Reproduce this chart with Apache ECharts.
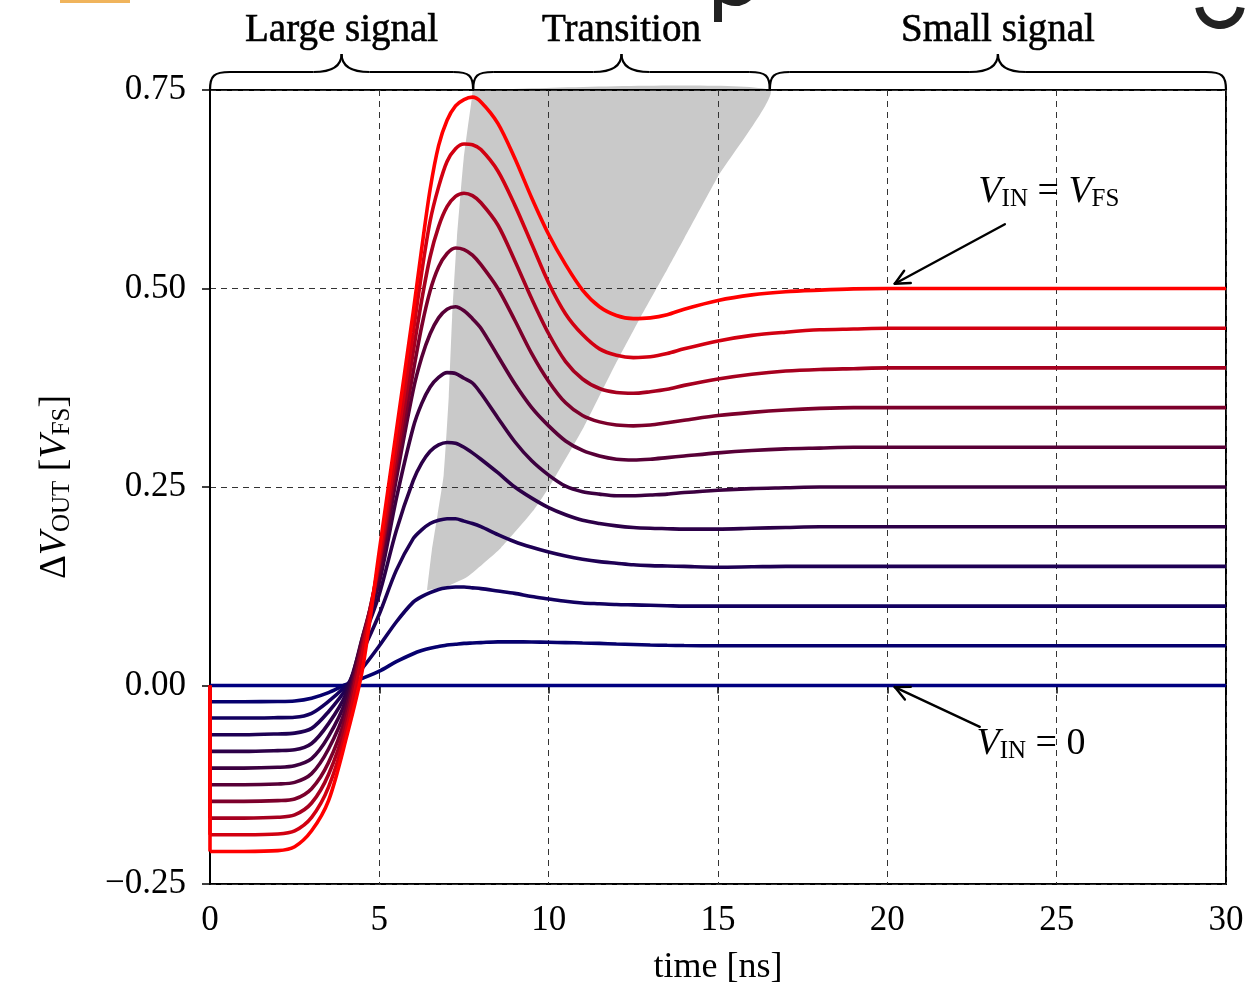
<!DOCTYPE html>
<html lang="en">
<head>
<meta charset="UTF-8">
<title>Step response</title>
<script src="https://cdn.jsdelivr.net/npm/echarts@6/dist/echarts.min.js"></script>
<style>
  html, body { margin: 0; padding: 0; background: #fff; }
  #chart { width: 1250px; height: 989px; }
</style>
</head>
<body>
<div id="chart"></div>
<script>
// time grid in ns, shared by every curve
var times = [0, 1, 2, 2.5, 3, 3.5, 4, 4.5, 5, 5.5, 6,
    6.25, 6.5, 6.75, 7, 7.25, 7.5, 7.75, 8,
    8.5, 9, 9.5, 10, 10.5, 11, 11.5, 12, 12.5, 13, 13.5, 14,
    15, 16, 17, 18, 19, 20, 22, 25, 30];

// output curves, named by their final value (in V_FS)
var out00 = [0, 0, 0, 0, 0, 0, 0, 0, 0, 0, 0,
    0, 0, 0, 0, 0, 0, 0, 0,
    0, 0, 0, 0, 0, 0, 0, 0, 0, 0, 0, 0,
    0, 0, 0, 0, 0, 0, 0, 0, 0];
var out05 = [-0.0204, -0.0204, -0.0202, -0.0195, -0.016, -0.009, 0.001, 0.009, 0.018, 0.03, 0.04,
    0.044, 0.047, 0.049, 0.051, 0.052, 0.053, 0.0535, 0.054,
    0.055, 0.055, 0.0548, 0.0544, 0.054, 0.0535, 0.053, 0.0522, 0.0516, 0.051, 0.0506, 0.0503,
    0.05, 0.05, 0.05, 0.05, 0.05, 0.05, 0.05, 0.05, 0.05];
var out10 = [-0.041, -0.041, -0.0405, -0.04, -0.035, -0.02, -0.001, 0.022, 0.05, 0.08, 0.105,
    0.112, 0.117, 0.121, 0.123, 0.124, 0.124, 0.123, 0.122,
    0.119, 0.116, 0.112, 0.109, 0.106, 0.104, 0.103, 0.102, 0.1015, 0.101, 0.1005, 0.1,
    0.1, 0.1, 0.1, 0.1, 0.1, 0.1, 0.1, 0.1, 0.1];
var out15 = [-0.062, -0.062, -0.061, -0.06, -0.054, -0.033, -0.005, 0.042, 0.09, 0.145, 0.185,
    0.196, 0.204, 0.208, 0.21, 0.21, 0.207, 0.204, 0.2,
    0.19, 0.181, 0.174, 0.168, 0.163, 0.159, 0.156, 0.154, 0.152, 0.151, 0.1505, 0.15,
    0.149, 0.1495, 0.15, 0.15, 0.15, 0.15, 0.15, 0.15, 0.15];
var out20 = [-0.083, -0.083, -0.082, -0.081, -0.073, -0.048, -0.012, 0.055, 0.115, 0.195, 0.258,
    0.28, 0.295, 0.303, 0.306, 0.305, 0.3, 0.293, 0.285,
    0.268, 0.25, 0.236, 0.224, 0.215, 0.208, 0.204, 0.201, 0.199, 0.198, 0.1975, 0.197,
    0.197, 0.198, 0.199, 0.2, 0.2, 0.2, 0.2, 0.2, 0.2];
var out25 = [-0.104, -0.104, -0.103, -0.101, -0.092, -0.064, -0.02, 0.06, 0.13, 0.235, 0.325,
    0.355, 0.376, 0.388, 0.394, 0.393, 0.387, 0.381, 0.368,
    0.337, 0.307, 0.283, 0.265, 0.251, 0.244, 0.241, 0.239, 0.239, 0.24, 0.241, 0.243,
    0.246, 0.248, 0.249, 0.25, 0.25, 0.25, 0.25, 0.25, 0.25];
var out30 = [-0.125, -0.125, -0.124, -0.122, -0.111, -0.08, -0.03, 0.06, 0.14, 0.26, 0.372,
    0.413, 0.443, 0.463, 0.474, 0.477, 0.472, 0.462, 0.45,
    0.415, 0.38, 0.35, 0.327, 0.308, 0.296, 0.289, 0.285, 0.284, 0.285, 0.287, 0.289,
    0.293, 0.296, 0.298, 0.299, 0.3, 0.3, 0.3, 0.3, 0.3];
var out35 = [-0.146, -0.146, -0.145, -0.143, -0.13, -0.097, -0.04, 0.055, 0.15, 0.275, 0.395,
    0.452, 0.497, 0.527, 0.544, 0.551, 0.549, 0.542, 0.53,
    0.5, 0.46, 0.418, 0.383, 0.356, 0.34, 0.332, 0.328, 0.327, 0.328, 0.331, 0.334,
    0.34, 0.344, 0.347, 0.349, 0.35, 0.35, 0.35, 0.35, 0.35];
var out40 = [-0.167, -0.167, -0.166, -0.163, -0.148, -0.112, -0.05, 0.05, 0.155, 0.285, 0.42,
    0.485, 0.54, 0.578, 0.603, 0.616, 0.62, 0.617, 0.608,
    0.58, 0.535, 0.487, 0.443, 0.408, 0.386, 0.374, 0.369, 0.368, 0.37, 0.373, 0.378,
    0.386, 0.392, 0.396, 0.398, 0.399, 0.4, 0.4, 0.4, 0.4];
var out45 = [-0.188, -0.188, -0.187, -0.183, -0.166, -0.128, -0.06, 0.04, 0.16, 0.3, 0.445,
    0.52, 0.585, 0.628, 0.66, 0.676, 0.682, 0.681, 0.675,
    0.648, 0.605, 0.556, 0.507, 0.468, 0.442, 0.424, 0.416, 0.413, 0.414, 0.418, 0.424,
    0.434, 0.441, 0.445, 0.448, 0.449, 0.45, 0.45, 0.45, 0.45];
var out50 = [-0.209, -0.209, -0.208, -0.203, -0.183, -0.145, -0.07, 0.02, 0.17, 0.32, 0.47,
    0.55, 0.625, 0.68, 0.712, 0.73, 0.738, 0.741, 0.735,
    0.708, 0.664, 0.614, 0.568, 0.53, 0.498, 0.477, 0.466, 0.462, 0.463, 0.467, 0.474,
    0.485, 0.492, 0.496, 0.498, 0.4995, 0.5, 0.5, 0.5, 0.5];

var curves = [out00, out05, out10, out15, out20, out25, out30, out35, out40, out45, out50];
var curveColors = ['#000080', '#06006e', '#120060', '#1e0054', '#2c0048', '#3c0040', '#580037', '#7c002b', '#a6001f', '#d20011', '#ff0000'];

// grey "transition" region (outline, time / value pairs)
var shadeT = [6.41, 6.55, 6.72, 6.9, 7.05, 7.15, 7.29, 7.49, 7.74, 7.77, 16.53, 15.0, 14.0, 13.5, 12.7, 12.0, 11.03, 10.0, 9.56, 8.58, 7.6, 7.0, 6.41];
var shadeV = [0.12, 0.17, 0.215, 0.265, 0.364, 0.464, 0.563, 0.663, 0.742, 0.75, 0.75, 0.641, 0.563, 0.524, 0.463, 0.407, 0.325, 0.249, 0.221, 0.173, 0.137, 0.125, 0.12];

// braces above the plot
var braceStart = [0, 7.77, 16.53];
var braceEnd = [7.77, 16.53, 30];
var braceLabels = ['Large signal', 'Transition', 'Small signal'];

// annotations: arrow tail (t, v) -> head (t, v), and text centre
var arrowTail = [[23.47, 0.581], [22.73, -0.052]];
var arrowHead = [[20.22, 0.506], [20.22, -0.002]];
var noteT = [24.77, 24.24];
var noteV = [0.621, -0.074];
var noteText = ['{v|V}{s|IN}{t| = }{v|V}{s|FS}', '{v|V}{s|IN}{t| = 0}'];

var xTicks = { min: 0, max: 30, interval: 5 };
var yTicks = { min: -0.25, max: 0.75, interval: 0.25 };

var serif = 'Liberation Serif';
var richText = {
    v: { fontFamily: serif, fontStyle: 'italic', fontSize: 38, lineHeight: 40, verticalAlign: 'middle', color: '#000' },
    s: { fontFamily: serif, fontSize: 25, lineHeight: 20, verticalAlign: 'bottom', color: '#000' },
    t: { fontFamily: serif, fontSize: 38, lineHeight: 40, verticalAlign: 'middle', color: '#000' },
    d: { fontFamily: serif, fontSize: 37, lineHeight: 40, verticalAlign: 'middle', color: '#000' }
};

var chart = echarts.init(document.getElementById('chart'));

var series = [];

// shaded area, below the dashed grid
series.push({
    type: 'custom',
    silent: true,
    z: -1,
    clip: false,
    data: [[shadeT[0], shadeV[0]]],
    renderItem: function (params, api) {
        var pts = shadeT.map(function (t, k) { return api.coord([t, shadeV[k]]); });
        return { type: 'polygon', shape: { points: pts, smooth: 0.15 }, style: { fill: '#c9c9c9' } };
    }
});

curves.forEach(function (vals, i) {
    series.push({
        type: 'line',
        data: times.map(function (t, j) { return [t, vals[j]]; }),
        smooth: 0.3,
        showSymbol: false,
        silent: true,
        lineStyle: { color: curveColors[i], width: 3.6 }
    });
    // the jump at t = 0
    series.push({
        type: 'line',
        data: [[0, 0], [0, vals[0]]],
        showSymbol: false,
        silent: true,
        lineStyle: { color: curveColors[i], width: 3.6 }
    });
});

// braces and their labels
series.push({
    type: 'custom',
    silent: true,
    clip: false,
    z: 10,
    data: braceStart.map(function (s, i) { return [s, braceEnd[i], i]; }),
    renderItem: function (params, api) {
        var a = api.coord([api.value(0), yTicks.max]);
        var b = api.coord([api.value(1), yTicks.max]);
        var y = a[1], x0 = a[0], x1 = b[0], m = (x0 + x1) / 2;
        var h1 = 18, h2 = 36, r = 20, r2 = 28;
        var st = { stroke: '#000', lineWidth: 2.2, fill: null };
        var yf = y - h1, yt = y - h2;
        return {
            type: 'group',
            children: [
                { type: 'bezierCurve', shape: { x1: x0, y1: y, cpx1: x0, cpy1: y - h1 * 0.8, cpx2: x0 + r * 0.2, cpy2: yf, x2: x0 + r, y2: yf }, style: st },
                { type: 'line', shape: { x1: x0 + r, y1: yf, x2: m - r2, y2: yf }, style: st },
                { type: 'bezierCurve', shape: { x1: m - r2, y1: yf, cpx1: m - r2 * 0.3, cpy1: yf, cpx2: m, cpy2: yf - (h2 - h1) * 0.35, x2: m, y2: yt }, style: st },
                { type: 'bezierCurve', shape: { x1: m, y1: yt, cpx1: m, cpy1: yf - (h2 - h1) * 0.35, cpx2: m + r2 * 0.3, cpy2: yf, x2: m + r2, y2: yf }, style: st },
                { type: 'line', shape: { x1: m + r2, y1: yf, x2: x1 - r, y2: yf }, style: st },
                { type: 'bezierCurve', shape: { x1: x1 - r, y1: yf, cpx1: x1 - r * 0.2, cpy1: yf, cpx2: x1, cpy2: y - h1 * 0.8, x2: x1, y2: y }, style: st },
                { type: 'text', x: m, y: y - 59, style: { text: braceLabels[api.value(2)], fontFamily: serif, fontSize: 39, fill: '#000', align: 'center', verticalAlign: 'middle', stroke: '#000', lineWidth: 0.6 } }
            ]
        };
    }
});

// arrows
series.push({
    type: 'custom',
    silent: true,
    z: 10,
    data: arrowTail.map(function (p, i) { return [p[0], p[1], arrowHead[i][0], arrowHead[i][1]]; }),
    renderItem: function (params, api) {
        var p = api.coord([api.value(0), api.value(1)]);
        var q = api.coord([api.value(2), api.value(3)]);
        var ang = Math.atan2(q[1] - p[1], q[0] - p[0]);
        var L = 16, w = 0.45;
        var st = { stroke: '#000', lineWidth: 2.4, lineCap: 'round' };
        return {
            type: 'group',
            children: [
                { type: 'line', shape: { x1: p[0], y1: p[1], x2: q[0], y2: q[1] }, style: st },
                { type: 'line', shape: { x1: q[0], y1: q[1], x2: q[0] - L * Math.cos(ang - w), y2: q[1] - L * Math.sin(ang - w) }, style: st },
                { type: 'line', shape: { x1: q[0], y1: q[1], x2: q[0] - L * Math.cos(ang + w), y2: q[1] - L * Math.sin(ang + w) }, style: st }
            ]
        };
    }
});

// annotation texts
series.push({
    type: 'custom',
    silent: true,
    z: 10,
    data: noteT.map(function (t, i) { return [t, noteV[i], i]; }),
    renderItem: function (params, api) {
        var c = api.coord([api.value(0), api.value(1)]);
        return {
            type: 'text', x: c[0], y: c[1],
            style: { text: noteText[api.value(2)], rich: richText, align: 'center', verticalAlign: 'middle', fill: '#000' }
        };
    }
});

var dashed = { show: true, lineStyle: { color: '#333', width: 1, type: [6, 5] } };

chart.setOption({
    animation: false,
    backgroundColor: '#fff',
    grid: { left: 210, right: 24, top: 90, bottom: 105, outerBoundsMode: 'none', show: true, borderColor: '#000', borderWidth: 2, backgroundColor: 'transparent' },
    xAxis: {
        type: 'value', min: xTicks.min, max: xTicks.max, interval: xTicks.interval,
        name: 'time [ns]', nameLocation: 'middle', nameGap: 66,
        nameTextStyle: { fontFamily: serif, fontSize: 36, color: '#000' },
        axisLine: { show: true, lineStyle: { color: '#000', width: 2 } },
        axisTick: { show: true, length: 8, lineStyle: { color: '#000', width: 1.5 } },
        axisLabel: { fontFamily: serif, fontSize: 35, color: '#000', margin: 19 },
        splitLine: dashed
    },
    yAxis: {
        type: 'value', min: yTicks.min, max: yTicks.max, interval: yTicks.interval,
        name: '{d|Δ}{v|V}{s|OUT}{t| [}{v|V}{s|FS}{t|]}', nameLocation: 'middle', nameGap: 135, nameRotate: 90,
        nameTextStyle: { rich: richText },
        axisLine: { show: true, lineStyle: { color: '#000', width: 2 } },
        axisTick: { show: true, length: 8, lineStyle: { color: '#000', width: 1.5 } },
        axisLabel: {
            fontFamily: serif, fontSize: 35, color: '#000', margin: 24, padding: [6, 0, 0, 0],
            formatter: function (v) { return (v < 0 ? '\u2212' : '') + Math.abs(v).toFixed(2); }
        },
        splitLine: dashed
    },
    // bits of a slide title cut off at the top edge
    graphic: [
        { type: 'rect', shape: { x: 60, y: 0, width: 70, height: 3 }, style: { fill: '#f0b45c' } },
        { type: 'rect', shape: { x: 714, y: 0, width: 8, height: 22 }, style: { fill: '#222' } },
        { type: 'arc', shape: { cx: 735, cy: -18, r: 20, startAngle: 0.1 * Math.PI, endAngle: 0.9 * Math.PI }, style: { stroke: '#222', lineWidth: 8, fill: null } },
        { type: 'arc', shape: { cx: 1220, cy: 4, r: 21, startAngle: 0.05 * Math.PI, endAngle: 0.95 * Math.PI }, style: { stroke: '#222', lineWidth: 8, fill: null } }
    ],
    series: series
});
</script>
</body>
</html>
